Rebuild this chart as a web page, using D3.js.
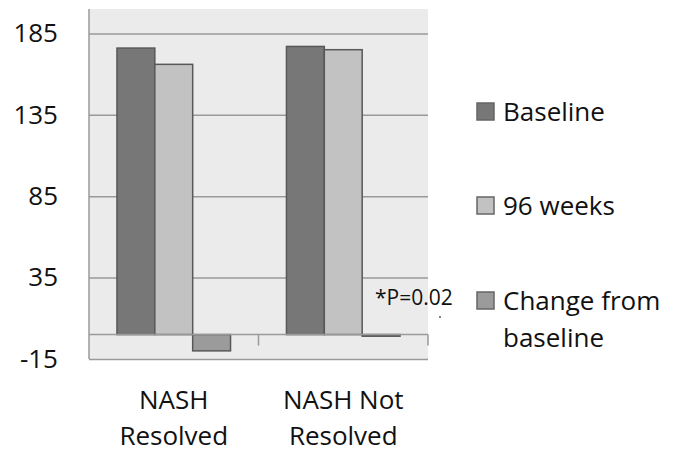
<!DOCTYPE html>
<html><head><meta charset="utf-8">
<script src="https://cdn.jsdelivr.net/npm/d3@7"></script>
<style>body{margin:0;background:#fff}svg{display:block}text{font-family:"Open Sans",sans-serif;fill:#111}</style>
</head><body><svg id="c" width="683" height="454"></svg>
<script>
const categories = [["NASH","Resolved"],["NASH Not","Resolved"]];
const seriesNames = ["Baseline","96 weeks","Change from baseline"];
const baseline = [176, 177];
const weeks96 = [166, 175];
const change = [-10, -1];
const yTicks = [-15, 35, 85, 135, 185];
const colors = ["#777777","#c2c2c2","#9b9b9b"];
const annotation = "*P=0.02";

const svg = d3.select("#c");
const L = 89, R = 428, T = 9, B = 359;
const y = d3.scaleLinear().domain([-15, 200]).range([B, T]);
const catIdx = categories.map((d,i)=>i);
const x0 = d3.scaleBand().domain(catIdx).range([L, R]).paddingInner(0.33).paddingOuter(0.165);
const x1 = d3.scaleBand().domain(d3.range(3)).range([0, x0.bandwidth()]);
const xs = d3.scaleBand().domain(catIdx).range([L, R]).padding(0);

svg.append("rect").attr("x", L).attr("y", T).attr("width", R - L).attr("height", B - T).attr("fill", "#ebebeb");

// gridlines + y axis
const ya = svg.append("g").attr("transform", `translate(${L},0)`)
  .call(d3.axisLeft(y).tickValues(yTicks).tickSize(10).tickPadding(21).tickFormat(d => String(d)));
ya.select(".domain").remove();
ya.selectAll(".tick line").attr("x2", R - L).attr("stroke", "#9a9a9a").attr("stroke-width", 1.5);
ya.selectAll(".tick text").style("font-size", "26px").attr("fill", "#111");
svg.append("line").attr("x1", L).attr("x2", L).attr("y1", T).attr("y2", B).attr("stroke", "#9a9a9a").attr("stroke-width", 1.5);

// bars
const data = categories.map((c,i)=>[baseline[i], weeks96[i], change[i]]);
const g = svg.append("g");
data.forEach((vals, i) => {
  g.selectAll(null).data(vals).enter().append("rect")
    .attr("x", (d,j) => x0(i) + x1(j))
    .attr("width", x1.bandwidth())
    .attr("y", d => y(Math.max(0, d)))
    .attr("height", d => Math.abs(y(d) - y(0)))
    .attr("fill", (d,j) => colors[j])
    .attr("stroke", "#585858").attr("stroke-width", 1.5);
});

// zero axis with category ticks
svg.append("line").attr("x1", L).attr("x2", R).attr("y1", y(0)).attr("y2", y(0)).attr("stroke", "#9a9a9a").attr("stroke-width", 1.5);
catIdx.forEach(i => {
  const xx = xs(i) + xs.bandwidth();
  svg.append("line").attr("x1", xx).attr("x2", xx).attr("y1", y(0)).attr("y2", y(0) + 11).attr("stroke", "#9a9a9a").attr("stroke-width", 1.5);
});

// category labels
categories.forEach((lines, i) => {
  const cx = xs(i) + xs.bandwidth() / 2;
  lines.forEach((t, k) => {
    svg.append("text").attr("x", cx).attr("y", 409 + k * 36).attr("text-anchor", "middle").style("font-size", "26px").text(t);
  });
});

// annotation
svg.append("text").attr("x", 375).attr("y", 305).style("font-size", "21px").text(annotation);
svg.append("circle").attr("cx", 440).attr("cy", 317).attr("r", 0.9).attr("fill", "#444");

// legend
const legendY = [112, 206, 301];
const legendLines = [["Baseline"],["96 weeks"],["Change from","baseline"]];
legendLines.forEach((lines, i) => {
  svg.append("rect").attr("x", 477).attr("y", legendY[i] - 9).attr("width", 17).attr("height", 17)
    .attr("fill", colors[i]).attr("stroke", "#666").attr("stroke-width", 1.5);
  lines.forEach((t, k) => {
    svg.append("text").attr("x", 503).attr("y", legendY[i] + 8.5 + k * 37).style("font-size", "26px").text(t);
  });
});
</script></body></html>
